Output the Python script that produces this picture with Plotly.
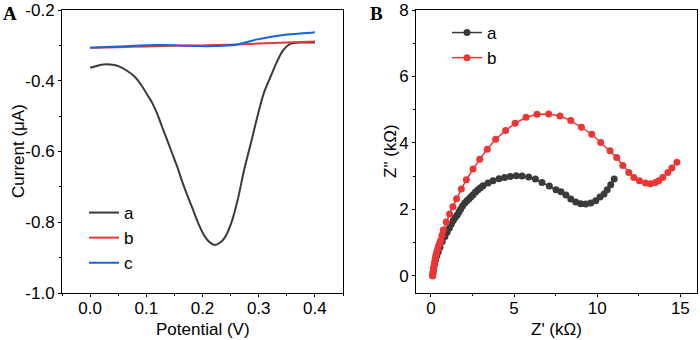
import plotly.graph_objects as go

# ---------------- Panel A data (DPV) ----------------
pot_a = [0.000, 0.010, 0.020, 0.029, 0.040, 0.0525, 0.065, 0.076, 0.085, 0.093, 0.102, 0.111,
         0.120, 0.128, 0.137, 0.146, 0.155, 0.163, 0.172, 0.181, 0.1925, 0.204, 0.213, 0.222,
         0.231, 0.239, 0.251, 0.2626, 0.274, 0.286, 0.2976, 0.309, 0.321, 0.3326, 0.344,
         0.356, 0.3676, 0.380, 0.400]
cur_a = [-0.363, -0.359, -0.355, -0.3535, -0.355, -0.360, -0.371, -0.384, -0.399, -0.417, -0.440, -0.464,
         -0.496, -0.530, -0.567, -0.605, -0.643, -0.681, -0.720, -0.756, -0.803, -0.840, -0.857, -0.864,
         -0.858, -0.845, -0.803, -0.737, -0.652, -0.577, -0.502, -0.4355, -0.389, -0.346, -0.313,
         -0.296, -0.2924, -0.2922, -0.292]

pot_b = [0.00, 0.05, 0.10, 0.15, 0.20, 0.25, 0.30, 0.35, 0.40]
cur_b = [-0.307, -0.305, -0.303, -0.301, -0.300, -0.298, -0.295, -0.292, -0.289]

pot_c = [0.00, 0.04, 0.08, 0.117, 0.16, 0.1925, 0.22, 0.257, 0.275, 0.2976, 0.32, 0.344, 0.37, 0.394, 0.40]
cur_c = [-0.307, -0.304, -0.301, -0.299, -0.300, -0.302, -0.302, -0.299, -0.292, -0.283, -0.276, -0.2707, -0.267, -0.264, -0.263]

# ---------------- Panel B data (Nyquist) ----------------
zr_a = [0.10, 0.13, 0.17, 0.22, 0.28, 0.35, 0.44, 0.54, 0.68, 0.84, 0.97, 1.10, 1.22, 1.34, 1.46,
        1.58, 1.68, 1.78, 1.90, 2.03, 2.16, 2.29, 2.41, 2.53, 2.68, 2.83, 2.98, 3.13, 3.43, 3.73,
        4.09, 4.43, 4.77, 5.13, 5.48, 5.88, 6.28, 6.68, 7.12, 7.52, 7.82, 8.12, 8.41, 8.71, 9.01,
        9.31, 9.61, 9.91, 10.17, 10.41, 10.60, 10.81, 11.02]
zi_a = [0.00, 0.10, 0.22, 0.35, 0.48, 0.60, 0.72, 0.86, 1.03, 1.18, 1.31, 1.43, 1.55, 1.66, 1.75,
        1.83, 1.92, 2.00, 2.10, 2.19, 2.26, 2.32, 2.38, 2.44, 2.52, 2.59, 2.65, 2.71, 2.79, 2.86,
        2.92, 2.96, 2.99, 3.01, 3.00, 2.97, 2.91, 2.81, 2.70, 2.59, 2.53, 2.43, 2.31, 2.22, 2.17,
        2.16, 2.19, 2.26, 2.37, 2.46, 2.59, 2.74, 2.91]

zr_b = [0.10, 0.12, 0.15, 0.18, 0.21, 0.25, 0.29, 0.34, 0.40, 0.46, 0.52, 0.58, 0.66, 0.74, 0.92,
        1.12, 1.32, 1.54, 1.83, 2.13, 2.53, 2.93, 3.39, 3.89, 4.49, 5.06, 5.72, 6.38, 7.08, 7.76,
        8.41, 9.05, 9.67, 10.21, 10.77, 11.17, 11.54, 11.90, 12.20, 12.54, 12.90, 13.20, 13.50,
        13.70, 13.94, 14.25, 14.49, 14.79]
zi_b = [0.00, 0.10, 0.20, 0.30, 0.40, 0.50, 0.60, 0.70, 0.80, 0.90, 0.98, 1.06, 1.22, 1.38, 1.62,
        1.86, 2.08, 2.32, 2.61, 2.89, 3.21, 3.51, 3.81, 4.11, 4.37, 4.59, 4.77, 4.86, 4.87, 4.81,
        4.67, 4.47, 4.26, 4.01, 3.76, 3.56, 3.32, 3.11, 2.96, 2.86, 2.79, 2.77, 2.81,
        2.86, 2.96, 3.11, 3.24, 3.42]

# tick labels
a_xticks = [0.0, 0.1, 0.2, 0.3, 0.4]
a_xticktext = ["0.0", "0.1", "0.2", "0.3", "0.4"]
a_yticks = [-1.0, -0.8, -0.6, -0.4, -0.2]
a_yticktext = ["-1.0", "-0.8", "-0.6", "-0.4", "-0.2"]
b_xticks = [0, 5, 10, 15]
b_yticks = [0, 2, 4, 6, 8]

GRAY = "#3a3a3a"
RED = "#ee3535"
BLUE = "#1664e0"
FONT = "Liberation Sans, Arial, sans-serif"
FS = 17
LFS = 17

W, H = 700, 340
def px(x):
    return x / W
def py(y):
    return 1 - y / H

fig = go.Figure()
fig.add_trace(go.Scatter(x=pot_a, y=cur_a, mode="lines", name="a", line=dict(color=GRAY, width=2, shape="spline"),
                         xaxis="x", yaxis="y", legend="legend"))
fig.add_trace(go.Scatter(x=pot_b, y=cur_b, mode="lines", name="b", line=dict(color=RED, width=2, shape="spline"),
                         xaxis="x", yaxis="y", legend="legend"))
fig.add_trace(go.Scatter(x=pot_c, y=cur_c, mode="lines", name="c", line=dict(color=BLUE, width=2, shape="spline"),
                         xaxis="x", yaxis="y", legend="legend"))

fig.add_trace(go.Scatter(x=zr_a, y=zi_a, mode="lines+markers", name="a",
                         line=dict(color=GRAY, width=1.5), marker=dict(color=GRAY, size=7),
                         xaxis="x2", yaxis="y2", legend="legend2"))
fig.add_trace(go.Scatter(x=zr_b, y=zi_b, mode="lines+markers", name="b",
                         line=dict(color=RED, width=1.5), marker=dict(color=RED, size=7),
                         xaxis="x2", yaxis="y2", legend="legend2"))

axis_common = dict(showline=True, linecolor="black", linewidth=1, mirror=True, ticks="outside",
                   ticklen=3, tickwidth=1, tickcolor="black", showgrid=False, zeroline=False,
                   automargin=False, tickfont=dict(family=FONT, size=FS, color="black"))

ydom = [py(293), py(10)]
fig.update_layout(
    template="none",
    width=W, height=H, margin=dict(l=0, r=0, t=0, b=0, pad=0),
    paper_bgcolor="white", plot_bgcolor="white",
    font=dict(family=FONT, size=FS, color="black"),
    xaxis=dict(domain=[px(62), px(343)], range=[-0.05, 0.45], tickvals=a_xticks, ticktext=a_xticktext,
               ticklabelstandoff=-3,
               minor=dict(ticks="outside", ticklen=2, dtick=0.05, tickcolor="black"), anchor="y", **axis_common),
    yaxis=dict(domain=ydom, range=[-1.0, -0.2], tickvals=a_yticks, ticktext=a_yticktext,
               minor=dict(ticks="outside", ticklen=2, dtick=0.1, tickcolor="black"), anchor="x", **axis_common),
    xaxis2=dict(domain=[px(416), px(697)], range=[-0.9, 16], tickvals=b_xticks,
                ticklabelstandoff=-3,
                minor=dict(ticks="outside", ticklen=2, dtick=2.5, tick0=0, tickcolor="black"), anchor="y2", **axis_common),
    yaxis2=dict(domain=ydom, range=[-0.52, 8], tickvals=b_yticks,
                minor=dict(ticks="outside", ticklen=2, dtick=1, tick0=0, tickcolor="black"), anchor="x2", **axis_common),
    legend=dict(x=px(84), y=py(195), xanchor="left", yanchor="top", bgcolor="rgba(0,0,0,0)",
                font=dict(family=FONT, size=LFS), tracegroupgap=0),
    legend2=dict(x=px(447), y=py(15), xanchor="left", yanchor="top", bgcolor="rgba(0,0,0,0)",
                 font=dict(family=FONT, size=LFS), tracegroupgap=0),
    showlegend=True,
)

annots = [
    dict(text="<b>A</b>", x=px(10), y=py(14), font=dict(family="Liberation Serif, Times New Roman, serif", size=19)),
    dict(text="<b>B</b>", x=px(376), y=py(14), font=dict(family="Liberation Serif, Times New Roman, serif", size=19)),
    dict(text="Potential (V)", x=px(203), y=py(329), font=dict(family=FONT, size=FS)),
    dict(text="Z' (kΩ)", x=px(556), y=py(329), font=dict(family=FONT, size=FS)),
    dict(text="Current (μA)", x=px(18), y=py(151), textangle=-90, font=dict(family=FONT, size=FS)),
    dict(text='Z" (kΩ)', x=px(390), y=py(151), textangle=-90, font=dict(family=FONT, size=FS)),
]
for a in annots:
    fig.add_annotation(xref="paper", yref="paper", showarrow=False, xanchor="center", yanchor="middle",
                       borderpad=0, **a)

fig.write_html("out.html", config={"displayModeBar": False},
               post_script="document.body.style.margin='0';document.body.style.padding='0';document.body.style.overflow='hidden';")
